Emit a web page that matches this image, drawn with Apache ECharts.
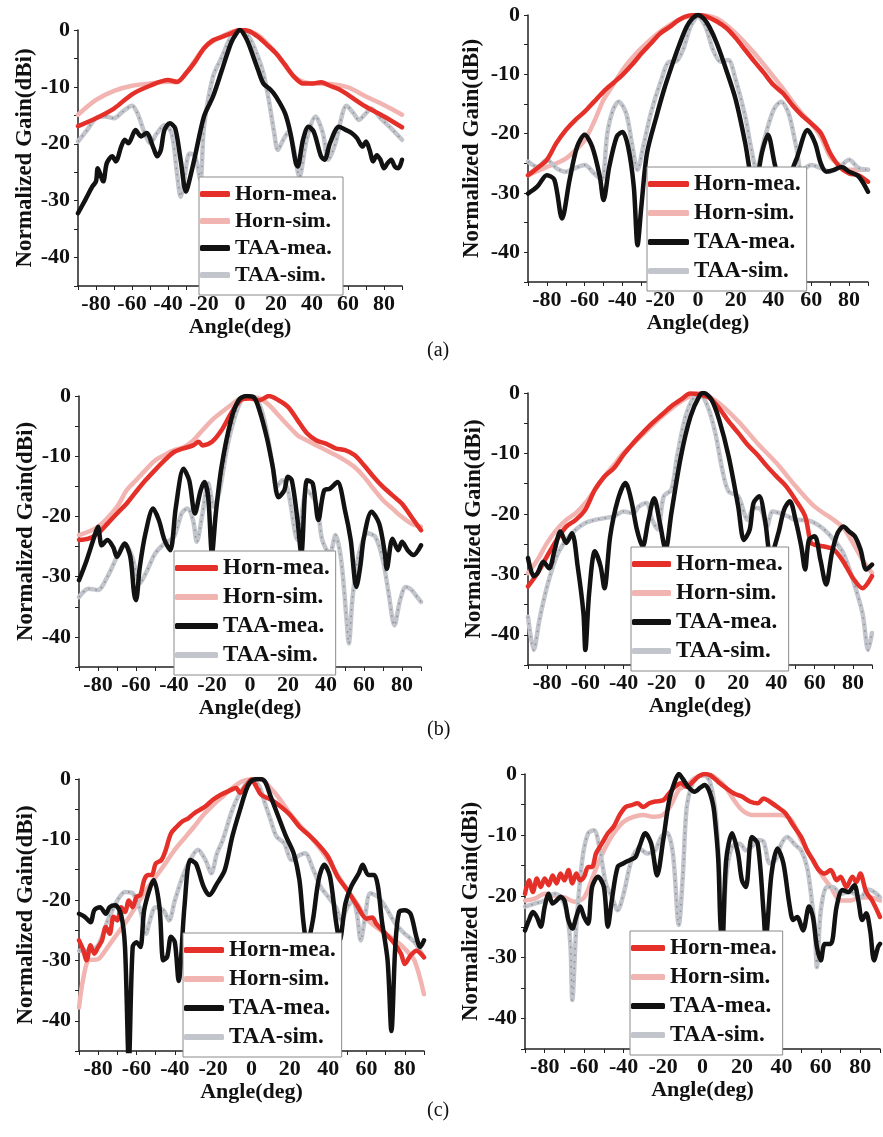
<!DOCTYPE html>
<html lang="en">
<head>
    <meta charset="UTF-8">
    <title>Normalized gain patterns</title>
    <script src="https://cdn.jsdelivr.net/npm/echarts@6.0.0/dist/echarts.min.js"></script>
    <style>
        html, body { margin: 0; padding: 0; background: #fff; }
    </style>
</head>
<body>
<div id="chart" style="width: 883px; height:1137px;"></div>
<script>
    // ---- data: [angle (deg), normalized gain (dB)] ----
    var a1HornMea = [[-90,-16.9],[-80,-15.5],[-70,-13.8],[-60,-11.3],[-50,-9.8],[-40,-8.8],[-35,-9.1],[-30,-7.6],[-25,-5.6],[-20,-3.2],[-15,-1.8],[-10,-1.2],[-5,-0.6],[0,0],[5,-0.2],[10,-1.2],[15,-2.6],[20,-4.1],[25,-6.1],[30,-8.2],[35,-9.4],[40,-9.4],[45,-9.2],[50,-9.8],[55,-10.4],[60,-11.4],[70,-13.5],[80,-15.2],[90,-17.1]];
    var a1HornSim = [[-90,-14.9],[-80,-12.3],[-70,-10.7],[-60,-9.8],[-50,-9.4],[-40,-9.1],[-35,-9.2],[-30,-7.6],[-20,-3.2],[-10,-1.1],[0,0],[10,-0.9],[20,-4.1],[30,-8.2],[40,-9.4],[50,-9.5],[60,-10.1],[70,-11.7],[80,-13.2],[90,-14.9]];
    var a1TaaMea = [[-90,-32.2],[-86,-29.9],[-82,-27.5],[-80,-26.6],[-79,-24.3],[-76,-26.6],[-74,-23.4],[-71,-22.2],[-69,-23.1],[-66,-20.5],[-64,-19.3],[-62,-19.9],[-58,-17.6],[-55,-18.7],[-52,-18.1],[-48,-20.8],[-46,-22.2],[-44,-21.1],[-42,-17.6],[-39,-16.4],[-36,-17.3],[-33,-22.8],[-30,-28.4],[-28,-26.3],[-25,-22.2],[-20,-15.2],[-15,-11.7],[-10,-7.0],[-5,-2.3],[-2,-0.6],[0,0],[3,-1.2],[5,-2.6],[10,-7.0],[13,-9.4],[17,-10.5],[20,-11.7],[25,-14.6],[28,-18.1],[31,-23.4],[32,-24.0],[35,-19.3],[38,-17.0],[41,-17.9],[45,-22.2],[47,-22.8],[50,-19.9],[55,-17.0],[59,-17.6],[62,-18.1],[65,-19.0],[68,-20.5],[70,-19.6],[72,-21.1],[74,-23.1],[76,-22.0],[78,-22.8],[80,-24.3],[82,-23.4],[84,-22.8],[86,-24.0],[88,-24.3],[90,-22.8]];
    var a1TaaSim = [[-90,-19.6],[-85,-17.6],[-80,-15.5],[-75,-15.2],[-70,-15.5],[-65,-14.3],[-60,-13.3],[-57,-14.6],[-53,-18.1],[-50,-19.9],[-46,-18.1],[-42,-16.7],[-38,-18.1],[-35,-25.2],[-33,-29.3],[-31,-26.3],[-28,-21.7],[-25,-22.2],[-22,-26.3],[-20,-17.0],[-15,-8.2],[-10,-4.7],[-5,-1.2],[0,0],[5,-1.2],[10,-4.7],[13,-7.6],[16,-12.3],[19,-18.1],[21,-21.1],[24,-19.3],[27,-17.9],[30,-21.0],[33,-25.8],[37,-19.3],[42,-15.2],[46,-18.1],[49,-22.8],[53,-19.9],[57,-14.6],[59,-13.3],[63,-14.6],[66,-15.8],[70,-14.6],[73,-13.8],[78,-15.5],[83,-17.0],[90,-19.3]];

    var a2HornMea = [[-90,-27.0],[-85,-25.8],[-80,-24.4],[-75,-21.6],[-70,-19.4],[-65,-17.7],[-60,-16.3],[-55,-14.6],[-50,-12.9],[-45,-11.5],[-40,-10.1],[-35,-8.4],[-30,-6.5],[-25,-4.8],[-20,-3.1],[-15,-2.0],[-10,-0.8],[-5,-0.1],[0,0],[5,-0.3],[10,-1.1],[15,-2.2],[20,-3.9],[25,-5.9],[30,-7.9],[35,-9.8],[40,-11.8],[45,-13.2],[50,-15.2],[55,-16.9],[60,-18.3],[65,-19.9],[70,-23.3],[75,-25.6],[80,-26.7],[85,-27.0],[90,-28.1]];
    var a2HornSim = [[-90,-27.0],[-80,-25.6],[-75,-25.0],[-70,-24.2],[-65,-22.8],[-60,-21.1],[-55,-18.0],[-50,-14.3],[-45,-11.8],[-40,-9.3],[-35,-7.3],[-30,-5.6],[-20,-2.8],[-10,-0.8],[0,0],[10,-0.6],[20,-3.1],[30,-6.5],[40,-10.4],[45,-12.4],[50,-14.6],[55,-16.6],[60,-18.3],[65,-20.5],[70,-23.9],[75,-25.3],[80,-26.1],[90,-26.1]];
    var a2TaaMea = [[-90,-30.1],[-85,-28.9],[-80,-27.0],[-76,-27.8],[-72,-34.3],[-68,-27.8],[-64,-22.2],[-60,-20.2],[-56,-22.2],[-52,-27.2],[-50,-31.2],[-47,-25.6],[-43,-20.5],[-40,-19.7],[-37,-22.2],[-34,-28.9],[-32,-38.8],[-30,-32.3],[-27,-23.3],[-22,-17.1],[-18,-12.6],[-14,-8.7],[-10,-5.1],[-6,-2.0],[-3,-0.6],[0,0],[3,-0.6],[6,-2.0],[10,-4.8],[15,-9.3],[20,-14.3],[25,-21.6],[28,-27.2],[30,-28.9],[34,-23.0],[37,-20.2],[41,-25.6],[45,-28.9],[52,-24.4],[58,-19.4],[62,-21.6],[65,-25.0],[68,-26.4],[72,-26.1],[76,-25.6],[80,-26.4],[85,-27.2],[90,-29.8]];
    var a2TaaSim = [[-90,-24.7],[-85,-25.6],[-80,-24.4],[-75,-25.8],[-70,-26.4],[-65,-25.8],[-60,-25.3],[-55,-26.7],[-51,-27.8],[-48,-19.9],[-45,-16.0],[-42,-14.6],[-38,-16.6],[-35,-21.6],[-32,-26.1],[-29,-22.2],[-25,-16.6],[-20,-11.5],[-15,-7.9],[-12,-7.9],[-8,-5.9],[-4,-2.0],[0,-0.3],[4,-2.0],[8,-5.9],[12,-7.9],[16,-7.6],[20,-11.0],[25,-17.1],[28,-22.2],[31,-26.1],[35,-21.1],[40,-16.0],[44,-14.6],[48,-16.6],[52,-22.2],[55,-26.1],[60,-25.3],[65,-25.8],[70,-26.4],[75,-25.6],[80,-24.4],[85,-25.8],[90,-26.1]];

    var b1HornMea = [[-90,-23.9],[-85,-23.7],[-80,-22.8],[-75,-21.2],[-70,-19.5],[-65,-17.9],[-60,-15.9],[-55,-14.0],[-50,-12.3],[-45,-10.7],[-40,-9.3],[-35,-8.7],[-30,-8.2],[-27,-7.6],[-25,-8.2],[-20,-7.6],[-15,-5.7],[-10,-2.9],[-5,-0.7],[0,-0.4],[5,-0.7],[10,0],[15,-0.7],[20,-1.8],[25,-4.0],[30,-6.2],[35,-7.4],[40,-7.9],[45,-8.7],[50,-9.0],[55,-9.8],[60,-11.5],[65,-13.4],[70,-15.1],[75,-16.5],[80,-17.9],[85,-20.1],[90,-22.3]];
    var b1HornSim = [[-90,-23.1],[-80,-21.7],[-70,-18.4],[-65,-15.7],[-60,-14.0],[-55,-12.3],[-50,-10.7],[-45,-9.8],[-40,-9.0],[-35,-8.5],[-30,-7.4],[-25,-5.7],[-20,-4.0],[-15,-2.7],[-10,-1.5],[-5,-0.4],[0,-0.2],[5,-0.4],[10,-1.5],[15,-3.2],[20,-4.9],[25,-6.5],[30,-7.4],[35,-8.2],[40,-9.0],[45,-9.8],[50,-10.7],[55,-11.8],[60,-13.4],[65,-15.4],[70,-17.3],[75,-18.7],[80,-20.1],[85,-21.2],[90,-21.7]];
    var b1TaaMea = [[-90,-30.6],[-86,-27.3],[-82,-23.4],[-80,-21.7],[-78,-24.8],[-75,-23.9],[-72,-25.1],[-70,-26.7],[-66,-24.5],[-63,-26.7],[-61,-32.8],[-60,-33.9],[-58,-28.4],[-55,-22.8],[-51,-18.7],[-48,-20.6],[-45,-23.9],[-42,-25.6],[-39,-18.4],[-35,-12.1],[-32,-14.0],[-29,-19.5],[-26,-15.7],[-24,-14.3],[-22,-16.8],[-20,-26.2],[-18,-19.5],[-15,-11.8],[-10,-4.0],[-6,-0.7],[-2,0],[2,-0.2],[5,-2.4],[9,-7.1],[12,-11.8],[15,-16.8],[18,-15.7],[20,-13.4],[22,-14.0],[25,-20.6],[27,-26.2],[30,-14.0],[33,-14.5],[36,-20.6],[39,-15.7],[42,-15.4],[46,-14.3],[50,-19.0],[53,-23.9],[56,-31.7],[58,-28.4],[60,-23.4],[64,-19.2],[68,-21.2],[71,-26.2],[72,-28.7],[75,-23.7],[78,-25.6],[80,-24.2],[83,-25.6],[86,-26.4],[90,-24.8]];
    var b1TaaSim = [[-90,-33.4],[-85,-32.0],[-80,-32.2],[-75,-30.0],[-70,-26.7],[-66,-24.5],[-62,-26.7],[-58,-31.1],[-54,-28.9],[-50,-26.2],[-45,-24.5],[-40,-23.4],[-36,-19.5],[-33,-18.7],[-30,-20.6],[-28,-24.2],[-25,-19.5],[-22,-14.5],[-19,-18.4],[-16,-15.7],[-12,-8.5],[-8,-3.5],[-4,-0.4],[0,0],[4,-0.7],[8,-4.6],[12,-11.8],[14,-15.1],[17,-14.0],[20,-15.7],[25,-23.9],[30,-15.7],[35,-17.9],[38,-23.9],[42,-26.2],[45,-23.1],[48,-27.3],[51,-37.8],[52,-41.1],[54,-33.4],[57,-26.7],[62,-22.8],[66,-23.4],[70,-27.3],[73,-32.8],[76,-38.1],[79,-33.9],[82,-31.7],[85,-32.2],[88,-33.4],[90,-34.2]];

    var b2HornMea = [[-90,-32.0],[-85,-29.8],[-80,-27.0],[-75,-24.3],[-70,-22.1],[-65,-21.0],[-60,-19.3],[-55,-16.0],[-50,-13.8],[-45,-12.4],[-40,-10.2],[-35,-8.3],[-30,-6.6],[-25,-5.0],[-20,-3.6],[-15,-2.2],[-10,-1.1],[-5,-0.1],[0,-0.3],[5,-0.8],[10,-2.5],[15,-4.7],[20,-6.6],[25,-8.6],[30,-10.2],[35,-12.1],[40,-13.8],[45,-15.4],[50,-17.7],[55,-20.4],[58,-24.8],[60,-25.1],[65,-25.4],[70,-25.9],[75,-27.9],[80,-30.6],[85,-32.3],[90,-30.3]];
    var b2HornSim = [[-90,-29.8],[-85,-27.6],[-80,-24.8],[-75,-22.6],[-70,-21.0],[-65,-19.9],[-60,-18.2],[-55,-16.0],[-50,-13.8],[-45,-11.9],[-40,-9.9],[-30,-6.9],[-20,-3.9],[-10,-1.4],[0,0],[10,-1.7],[20,-4.7],[30,-8.3],[40,-11.6],[50,-15.4],[60,-18.8],[70,-21.0],[75,-22.3],[80,-24.8],[85,-27.6],[90,-29.8]];
    var b2TaaMea = [[-90,-27.3],[-87,-30.3],[-85,-29.8],[-82,-27.9],[-79,-29.0],[-76,-25.9],[-73,-22.9],[-70,-24.8],[-67,-23.2],[-64,-28.7],[-61,-36.4],[-60,-42.5],[-58,-33.1],[-55,-26.2],[-52,-28.7],[-50,-32.3],[-47,-23.7],[-43,-17.7],[-39,-14.9],[-36,-17.7],[-33,-22.6],[-30,-25.4],[-27,-21.0],[-24,-17.4],[-21,-21.5],[-18,-25.9],[-15,-19.9],[-10,-10.5],[-5,-3.9],[0,-0.3],[2,0],[6,-1.1],[10,-4.4],[15,-10.5],[20,-18.8],[23,-24.3],[26,-22.6],[28,-18.2],[31,-17.1],[34,-21.0],[37,-27.0],[41,-23.2],[44,-19.3],[47,-17.9],[50,-21.0],[53,-25.4],[55,-29.2],[57,-24.3],[60,-23.7],[63,-27.6],[66,-31.7],[69,-26.5],[72,-23.2],[75,-22.1],[78,-22.9],[81,-23.7],[84,-25.9],[87,-29.2],[90,-28.4]];
    var b2TaaSim = [[-90,-37.0],[-87,-42.5],[-84,-37.5],[-80,-32.0],[-75,-27.0],[-70,-24.3],[-65,-22.6],[-60,-21.5],[-55,-21.0],[-50,-20.7],[-45,-20.4],[-40,-19.6],[-35,-19.9],[-32,-18.8],[-28,-18.2],[-25,-21.0],[-22,-22.6],[-19,-17.1],[-15,-16.0],[-12,-10.5],[-8,-4.4],[-4,-1.1],[0,-0.3],[4,-2.2],[8,-6.6],[12,-13.2],[15,-16.3],[20,-17.1],[25,-21.0],[28,-19.0],[32,-19.3],[35,-22.1],[38,-19.6],[42,-19.9],[46,-20.4],[50,-21.0],[55,-21.0],[60,-21.5],[65,-22.6],[70,-24.3],[75,-26.5],[80,-30.9],[85,-36.4],[88,-42.5],[90,-39.7]];

    var c1HornMea = [[-90,-26.7],[-88,-28.1],[-86,-30.0],[-84,-27.5],[-82,-28.9],[-80,-27.8],[-78,-26.7],[-76,-24.5],[-74,-25.6],[-72,-22.8],[-70,-23.4],[-68,-21.2],[-66,-22.0],[-64,-20.1],[-62,-21.2],[-60,-19.5],[-58,-19.2],[-56,-16.7],[-54,-15.9],[-52,-15.9],[-50,-14.0],[-47,-13.4],[-45,-12.0],[-42,-9.0],[-39,-7.9],[-36,-7.0],[-33,-6.5],[-30,-5.7],[-27,-5.1],[-24,-4.5],[-20,-3.4],[-16,-2.6],[-12,-2.0],[-8,-1.5],[-6,-2.3],[-3,-1.2],[0,-0.1],[2,-1.0],[5,-2.6],[10,-3.4],[15,-4.5],[20,-5.9],[25,-7.9],[30,-9.3],[35,-10.9],[40,-12.9],[45,-16.2],[50,-18.4],[55,-20.9],[60,-23.1],[63,-22.9],[65,-23.9],[70,-25.6],[74,-27.0],[78,-28.9],[80,-30.6],[83,-29.2],[86,-28.4],[90,-29.5]];
    var c1HornSim = [[-90,-37.8],[-88,-33.4],[-85,-30.0],[-80,-29.8],[-75,-27.8],[-70,-25.6],[-65,-23.4],[-60,-20.9],[-55,-18.4],[-50,-16.2],[-45,-14.0],[-40,-11.7],[-35,-9.8],[-30,-7.9],[-25,-5.9],[-20,-4.3],[-15,-2.9],[-10,-1.5],[-5,-0.4],[0,-0.1],[5,-0.1],[10,-1.5],[15,-3.4],[20,-5.7],[25,-7.6],[30,-9.3],[35,-11.2],[40,-13.4],[45,-15.9],[50,-18.4],[55,-20.6],[60,-23.1],[65,-24.5],[70,-25.6],[75,-26.7],[80,-28.1],[85,-30.0],[90,-35.6]];
    var c1TaaMea = [[-90,-22.3],[-87,-22.8],[-84,-23.7],[-82,-21.7],[-79,-21.2],[-76,-22.3],[-74,-21.2],[-71,-20.9],[-68,-22.5],[-66,-27.8],[-64,-47],[-62,-27.8],[-60,-27.0],[-58,-27.8],[-56,-21.7],[-53,-18.1],[-51,-16.7],[-48,-21.2],[-46,-30.0],[-44,-29.4],[-42,-26.1],[-40,-27.0],[-38,-33.4],[-35,-21.2],[-32,-13.4],[-29,-14.0],[-25,-17.8],[-22,-19.2],[-18,-17.3],[-14,-15.1],[-10,-9.5],[-6,-5.1],[-2,-1.2],[1,-0.1],[4,0],[7,-0.4],[10,-2.9],[14,-6.2],[18,-9.5],[22,-12.3],[25,-16.7],[27,-23.4],[29,-27.3],[32,-23.4],[35,-16.7],[38,-14.2],[41,-16.2],[44,-23.4],[46,-26.7],[49,-20.6],[52,-17.8],[56,-15.6],[58,-14.2],[61,-15.9],[64,-15.9],[66,-17.8],[68,-23.4],[71,-30.0],[73,-41.7],[75,-27.8],[77,-22.0],[80,-21.7],[83,-22.3],[86,-26.1],[88,-27.8],[90,-26.7]];
    var c1TaaSim = [[-90,-28.4],[-85,-28.4],[-80,-27.5],[-75,-23.4],[-70,-20.1],[-66,-18.7],[-62,-18.9],[-58,-21.7],[-55,-25.6],[-53,-23.4],[-50,-21.2],[-46,-21.7],[-43,-23.4],[-40,-20.1],[-36,-16.2],[-32,-13.4],[-28,-11.7],[-24,-13.4],[-21,-15.6],[-18,-12.3],[-15,-10.1],[-10,-5.1],[-5,-1.8],[0,-0.1],[4,-1.2],[7,-4.0],[10,-6.8],[13,-9.5],[17,-10.6],[21,-13.4],[25,-12.6],[28,-12.3],[32,-14.8],[36,-17.8],[40,-19.5],[44,-21.2],[47,-23.4],[50,-21.2],[53,-20.1],[55,-22.3],[57,-26.7],[59,-23.4],[62,-18.9],[66,-19.5],[70,-21.2],[75,-23.9],[80,-25.6],[85,-27.0],[90,-29.5]];

    var c2HornMea = [[-90,-19.6],[-88,-17.4],[-86,-19.3],[-84,-17.1],[-82,-18.5],[-80,-17.1],[-78,-18.2],[-76,-16.6],[-74,-17.9],[-72,-16.3],[-70,-17.4],[-68,-15.7],[-66,-17.9],[-64,-16.3],[-62,-17.4],[-60,-16.8],[-58,-15.2],[-56,-15.2],[-54,-13.0],[-52,-11.9],[-50,-10.8],[-48,-9.7],[-45,-8.6],[-42,-6.7],[-39,-5.4],[-36,-5.1],[-33,-4.8],[-30,-5.4],[-27,-4.8],[-24,-4.5],[-20,-4.3],[-17,-3.2],[-14,-2.1],[-11,-1.5],[-8,-2.1],[-5,-1.3],[-2,-0.4],[1,0],[4,-0.2],[8,-1.3],[12,-2.3],[16,-3.2],[20,-3.7],[24,-4.5],[28,-4.8],[31,-4.0],[34,-4.5],[38,-5.4],[42,-6.4],[46,-8.4],[50,-10.3],[53,-12.5],[56,-14.1],[59,-15.7],[62,-16.3],[65,-15.7],[68,-17.4],[70,-16.8],[73,-18.5],[76,-16.8],[78,-17.7],[80,-16.3],[83,-19.3],[86,-20.7],[90,-23.4]];
    var c2HornSim = [[-90,-20.7],[-85,-20.4],[-80,-19.6],[-75,-19.9],[-70,-20.2],[-65,-20.9],[-60,-20.2],[-55,-16.3],[-50,-12.5],[-45,-9.7],[-40,-7.8],[-35,-7.0],[-30,-6.7],[-25,-7.0],[-20,-6.7],[-16,-5.1],[-12,-2.6],[-8,-1.8],[-4,-0.7],[0,-0.2],[4,-0.2],[8,-1.0],[12,-2.3],[16,-4.3],[20,-5.9],[25,-6.7],[30,-6.7],[35,-6.7],[40,-6.7],[45,-7.5],[50,-10.8],[55,-13.6],[60,-16.3],[65,-18.5],[70,-20.7],[75,-20.7],[80,-20.2],[85,-20.2],[90,-20.7]];
    var c2TaaMea = [[-90,-25.6],[-88,-23.9],[-86,-22.6],[-84,-23.4],[-82,-25.0],[-80,-21.7],[-78,-19.6],[-76,-21.2],[-74,-20.7],[-72,-20.1],[-70,-20.7],[-68,-23.9],[-66,-25.3],[-64,-23.4],[-62,-21.7],[-60,-23.4],[-58,-24.5],[-56,-18.5],[-53,-16.8],[-50,-18.5],[-48,-25.0],[-46,-20.7],[-43,-15.2],[-40,-14.6],[-37,-14.1],[-34,-13.6],[-32,-11.9],[-29,-9.7],[-26,-11.4],[-23,-16.6],[-20,-11.0],[-17,-4.5],[-14,-1.2],[-12,0],[-10,-0.8],[-7,-2.2],[-4,-2.9],[-1,-2.2],[1,-1.8],[3,-2.5],[5,-4.5],[6,-6.4],[8,-14.0],[9,-23.9],[10,-28],[12,-14.1],[15,-9.7],[18,-13.0],[20,-17.4],[22,-18.5],[25,-10.3],[28,-11.4],[31,-22.8],[32,-27],[35,-16.3],[38,-12.2],[41,-14.6],[44,-21.2],[46,-23.9],[48,-23.4],[51,-25.6],[54,-21.7],[56,-23.4],[58,-28.3],[60,-30.5],[62,-27.8],[65,-27.8],[68,-21.7],[71,-19.0],[74,-19.3],[77,-18.2],[79,-20.7],[81,-23.9],[83,-22.8],[85,-25.6],[87,-30.5],[89,-28.3],[90,-27.8]];
    var c2TaaSim = [[-90,-21.7],[-85,-21.2],[-80,-20.7],[-75,-19.6],[-72,-20.1],[-69,-22.3],[-67,-27.8],[-66,-37.0],[-64,-25.0],[-61,-14.1],[-58,-9.7],[-55,-9.2],[-52,-12.5],[-49,-17.9],[-46,-20.1],[-43,-22.3],[-40,-19.6],[-36,-14.1],[-32,-12.2],[-28,-13.0],[-24,-12.5],[-21,-10.3],[-18,-9.6],[-15,-13.0],[-12,-24.7],[-10,-16.8],[-8,-5.4],[-5,-1.5],[-2,-0.4],[1,-0.2],[4,-1.5],[7,-7.5],[9,-19.6],[10,-28],[12,-16.8],[15,-11.9],[19,-11.4],[22,-12.5],[25,-11.9],[28,-10.8],[31,-11.1],[34,-14.6],[37,-14.1],[40,-11.4],[43,-10.3],[47,-11.6],[50,-12.5],[53,-15.2],[55,-19.6],[57,-25.6],[58,-31.6],[60,-22.3],[63,-18.5],[66,-18.5],[70,-19.6],[75,-19.3],[80,-20.2],[84,-18.9],[87,-19.3],[90,-20.2]];

    var seriesNames = ['Horn-mea.', 'Horn-sim.', 'TAA-mea.', 'TAA-sim.'];
    var xTicks = [-80, -60, -40, -20, 0, 20, 40, 60, 80];
    var yTicks = [0, -10, -20, -30, -40];
    var subLabels = ['(a)', '(b)', '(c)'];

    var serif = "'Liberation Serif', 'DejaVu Serif', serif";

    // layout of each panel, in px
    var panels = [
        {grid: [78, 30, 324, 256], legend: [199, 177, 30, 22, 3], nameGap: 34, sets: [a1HornMea, a1HornSim, a1TaaMea, a1TaaSim]},
        {grid: [528, 15, 340, 267], legend: [647, 167, 41, 23, 5], nameGap: 44, sets: [a2HornMea, a2HornSim, a2TaaMea, a2TaaSim]},
        {grid: [79, 396, 342, 271], legend: [174, 551, 43, 23, 5], nameGap: 36, sets: [b1HornMea, b1HornSim, b1TaaMea, b1TaaSim]},
        {grid: [528, 393, 344, 272], legend: [631, 547, 39, 23, 5], nameGap: 42, sets: [b2HornMea, b2HornSim, b2TaaMea, b2TaaSim]},
        {grid: [79, 779, 345, 272], legend: [183, 933, 40, 23, 5], nameGap: 36, sets: [c1HornMea, c1HornSim, c1TaaMea, c1TaaSim]},
        {grid: [525, 774, 357, 275], legend: [630, 931, 34, 23, 5], nameGap: 42, sets: [c2HornMea, c2HornSim, c2TaaMea, c2TaaSim]}
    ];

    var colors = {
        'Horn-mea.': '#e5302a',
        'Horn-sim.': '#f2b4b1',
        'TAA-mea.': '#121212',
        'TAA-sim.': '#c2c5cb'
    };

    var grids = [], xAxes = [], yAxes = [], legends = [], series = [];

    panels.forEach(function (p, i) {
        grids.push({left: p.grid[0], top: p.grid[1], width: p.grid[2], height: p.grid[3]});

        xAxes.push({
            gridIndex: i, type: 'value', min: -90, max: 90, interval: 10,
            name: 'Angle(deg)', nameLocation: 'middle', nameGap: 29,
            nameTextStyle: {fontFamily: serif, fontWeight: 'bold', fontSize: 22, color: '#111'},
            axisLine: {onZero: false, lineStyle: {color: '#222', width: 1.5}},
            axisTick: {length: 4, lineStyle: {color: '#222'}},
            splitLine: {show: false},
            axisLabel: {
                margin: 7, fontFamily: serif, fontWeight: 'bold', fontSize: 22, color: '#111',
                formatter: function (v) { return xTicks.indexOf(v) >= 0 ? String(v) : ''; }
            }
        });

        yAxes.push({
            gridIndex: i, type: 'value', min: -45, max: 0, interval: 5,
            name: 'Normalized Gain(dBi)', nameLocation: 'middle', nameGap: p.nameGap,
            nameTextStyle: {fontFamily: serif, fontWeight: 'bold', fontSize: 23, color: '#111'},
            axisLine: {show: true, onZero: false, lineStyle: {color: '#222', width: 1.5}},
            axisTick: {show: true, length: 4, lineStyle: {color: '#222'}},
            splitLine: {show: false},
            axisLabel: {
                margin: 8, fontFamily: serif, fontWeight: 'bold', fontSize: 22, color: '#111',
                formatter: function (v) { return yTicks.indexOf(v) >= 0 ? String(v) : ''; }
            }
        });

        legends.push({
            orient: 'vertical', left: p.legend[0], top: p.legend[1],
            data: seriesNames,
            icon: 'roundRect', itemWidth: p.legend[2], itemHeight: 6, itemGap: p.legend[4],
            padding: [5, 6, 8, 1],
            backgroundColor: '#fff', borderColor: '#8a8a8a', borderWidth: 1, borderRadius: 0,
            selectedMode: false,
            textStyle: {fontFamily: serif, fontWeight: 'bold', fontSize: p.legend[3], color: '#111', lineHeight: 24}
        });

        // draw order: simulations first, then measurements on top
        var order = [1, 3, 0, 2];
        order.forEach(function (k) {
            var name = seriesNames[k];
            series.push({
                name: name, type: 'line', xAxisIndex: i, yAxisIndex: i,
                data: p.sets[k], showSymbol: false, smooth: 0.3, clip: true,
                lineStyle: {color: colors[name], width: 4.5, cap: 'round', join: 'round'},
                itemStyle: {color: colors[name]}
            });
            if (k === 3) {
                // darker dotted core of the simulated TAA curve
                series.push({
                    name: 'TAA-sim core', type: 'line', xAxisIndex: i, yAxisIndex: i,
                    data: p.sets[k], showSymbol: false, smooth: 0.3, silent: true,
                    lineStyle: {color: '#8d9199', width: 1.6, type: [1.5, 5]}
                });
            }
        });
    });

    var titles = [
        {text: subLabels[0], left: 427, top: 341},
        {text: subLabels[1], left: 427, top: 720},
        {text: subLabels[2], left: 427, top: 1101}
    ].map(function (t) {
        t.textStyle = {fontFamily: serif, fontWeight: 'normal', fontSize: 20, color: '#111'};
        t.padding = 0;
        return t;
    });

    var chart = echarts.init(document.getElementById('chart'), null, {renderer: 'canvas'});
    chart.setOption({
        animation: false,
        backgroundColor: '#fff',
        title: titles,
        grid: grids,
        xAxis: xAxes,
        yAxis: yAxes,
        legend: legends,
        series: series
    });
</script>
</body>
</html>
